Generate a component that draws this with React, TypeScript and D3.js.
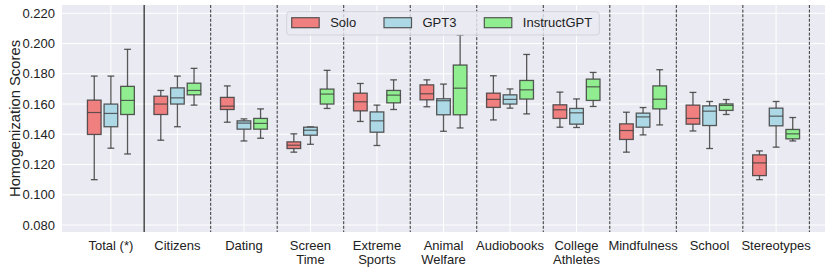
import React from "react";
import * as d3 from "d3";

const categories = ["Total (*)", "Citizens", "Dating", "Screen\nTime", "Extreme\nSports", "Animal\nWelfare", "Audiobooks", "College\nAthletes", "Mindfulness", "School", "Stereotypes"];
const seriesNames = ["Solo", "GPT3", "InstructGPT"];
const seriesColors = ["#F08080", "#ADD8E6", "#90EE90"];
const yTicks = [0.08, 0.1, 0.12, 0.14, 0.16, 0.18, 0.2, 0.22];

// [lowerWhisker, q1, median, q3, upperWhisker]
const solo = [
  [0.110, 0.1399, 0.1544, 0.1626, 0.1785],
  [0.1361, 0.1531, 0.160, 0.1652, 0.169],
  [0.148, 0.1564, 0.1586, 0.1644, 0.172],
  [0.1282, 0.1306, 0.1328, 0.135, 0.1403],
  [0.1485, 0.1555, 0.1615, 0.1672, 0.1736],
  [0.1582, 0.1628, 0.1668, 0.1727, 0.176],
  [0.1495, 0.1578, 0.1631, 0.1672, 0.1787],
  [0.1447, 0.1505, 0.1562, 0.1595, 0.1679],
  [0.1282, 0.1366, 0.1425, 0.1469, 0.1546],
  [0.1422, 0.1467, 0.1505, 0.1593, 0.1677],
  [0.110, 0.1127, 0.1211, 0.1264, 0.129],
];
const gpt3 = [
  [0.1308, 0.145, 0.1538, 0.160, 0.1785],
  [0.145, 0.160, 0.1641, 0.1707, 0.1785],
  [0.1356, 0.1434, 0.1474, 0.1489, 0.1502],
  [0.1334, 0.1394, 0.1427, 0.1447, 0.1449],
  [0.1326, 0.1414, 0.1489, 0.1548, 0.1593],
  [0.142, 0.1529, 0.1622, 0.1635, 0.1732],
  [0.1573, 0.160, 0.1631, 0.1661, 0.170],
  [0.1445, 0.1467, 0.1542, 0.1571, 0.1634],
  [0.1396, 0.1447, 0.1515, 0.154, 0.1577],
  [0.1306, 0.1458, 0.1553, 0.1588, 0.1617],
  [0.1315, 0.1456, 0.152, 0.1573, 0.1617],
];
const instruct = [
  [0.127, 0.1531, 0.1624, 0.1717, 0.1962],
  [0.1593, 0.1661, 0.169, 0.1738, 0.1836],
  [0.1374, 0.1434, 0.1472, 0.1505, 0.1568],
  [0.1571, 0.160, 0.1666, 0.1699, 0.1823],
  [0.1564, 0.1608, 0.1659, 0.169, 0.176],
  [0.1442, 0.1529, 0.1705, 0.1858, 0.2056],
  [0.1535, 0.1633, 0.1694, 0.1756, 0.1928],
  [0.1584, 0.1624, 0.1714, 0.1765, 0.1809],
  [0.1462, 0.1568, 0.1632, 0.172, 0.1827],
  [0.1531, 0.1558, 0.1591, 0.1601, 0.163],
  [0.1356, 0.137, 0.1403, 0.1432, 0.1511],
];
const allSeries = [solo, gpt3, instruct];

const W = 830, H = 271;
const L = 62, R = 825, T = 5, B = 232;
const FONT = "'Liberation Sans', Arial, sans-serif";

export default function App() {
  const x = d3.scaleLinear().domain([-0.735, categories.length - 1 + 0.735]).range([L, R]);
  const y = d3.scaleLinear().domain([0.0754, 0.2255]).range([B, T]);
  const unit = x(1) - x(0);
  const boxW = unit * 0.205;
  const capW = boxW * 0.5;
  const offsets = [-0.25, 0, 0.25];
  const edge = "#3d3d3d";

  return (
    <svg width={W} height={H} style={{ position: "absolute", left: 0, top: 0 }}>
      <rect x={L} y={T} width={R - L} height={B - T} fill="#EAEAF2" />
      {yTicks.map((t) => (
        <line key={"gy" + t} x1={L} x2={R} y1={y(t)} y2={y(t)} stroke="#fff" strokeWidth={1} />
      ))}
      {categories.map((c, i) => (
        <line key={"gx" + i} x1={x(i)} x2={x(i)} y1={T} y2={B} stroke="#fff" strokeWidth={1} />
      ))}
      {categories.map((c, i) => (
        <line key={"sep" + i} x1={x(i + 0.5)} x2={x(i + 0.5)} y1={T} y2={B}
          stroke={i === 0 ? "#222" : "#333"} strokeWidth={i === 0 ? 1.2 : 1}
          strokeDasharray={i === 0 ? undefined : "3,1.6"} />
      ))}
      {allSeries.map((series, s) =>
        series.map((d, i) => {
          const cx = x(i + offsets[s]);
          const [lo, q1, med, q3, hi] = d;
          return (
            <g key={"b" + s + "-" + i}>
              <line x1={cx} x2={cx} y1={y(hi)} y2={y(q3)} stroke={edge} strokeWidth={1.3} strokeOpacity={0.85} />
              <line x1={cx} x2={cx} y1={y(q1)} y2={y(lo)} stroke={edge} strokeWidth={1.3} strokeOpacity={0.85} />
              <line x1={cx - capW / 2} x2={cx + capW / 2} y1={y(hi)} y2={y(hi)} stroke={edge} strokeWidth={1.3} strokeOpacity={0.85} />
              <line x1={cx - capW / 2} x2={cx + capW / 2} y1={y(lo)} y2={y(lo)} stroke={edge} strokeWidth={1.3} strokeOpacity={0.85} />
              <rect x={cx - boxW / 2} y={y(q3)} width={boxW} height={Math.max(0.5, y(q1) - y(q3))}
                fill={seriesColors[s]} stroke={edge} strokeWidth={1.3} strokeOpacity={0.85} />
              <line x1={cx - boxW / 2} x2={cx + boxW / 2} y1={y(med)} y2={y(med)} stroke={edge} strokeWidth={1.2} strokeOpacity={0.8} />
            </g>
          );
        })
      )}
      {yTicks.map((t) => (
        <text key={"yt" + t} x={55} y={y(t)} dy="0.35em" textAnchor="end" fontFamily={FONT} fontSize={13} fill="#222">
          {d3.format(".3f")(t)}
        </text>
      ))}
      <text transform={`translate(15,${(T + B) / 2}) rotate(-90)`} textAnchor="middle" dy="0.35em" fontFamily={FONT} fontSize={14.8} fill="#222">
        Homogenization Scores
      </text>
      {categories.map((c, i) =>
        c.split("\n").map((line, j) => (
          <text key={"xl" + i + "-" + j} x={x(i)} y={245 + j * 14.5} dy="0.35em" textAnchor="middle" fontFamily={FONT} fontSize={13} fill="#222">
            {line}
          </text>
        ))
      )}
      <g>
        <rect x={286.7} y={11.7} width={312.6} height={23.3} rx={3} fill="#EAEAF2" fillOpacity={0.8} stroke="#d3d3da" strokeWidth={1} />
        {seriesNames.map((n, s) => {
          const px = [291.7, 384, 484.3][s];
          return (
            <g key={"lg" + s}>
              <rect x={px} y={17.7} width={27.5} height={10} fill={seriesColors[s]} stroke={edge} strokeWidth={1.2} strokeOpacity={0.85} />
              <text x={px + 38.5} y={22.6} dy="0.35em" fontFamily={FONT} fontSize={13} fill="#222">{n}</text>
            </g>
          );
        })}
      </g>
    </svg>
  );
}
